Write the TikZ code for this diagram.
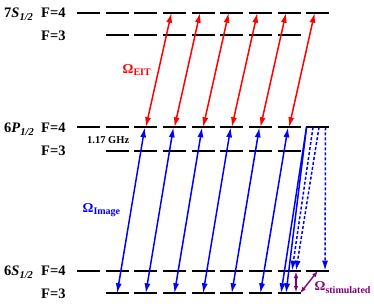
\documentclass[tikz,border=0pt]{standalone}
\usepackage{fontspec}
\setmainfont{Liberation Serif}
\usetikzlibrary{arrows.meta}
\definecolor{myred}{RGB}{255,0,0}
\definecolor{myblue}{RGB}{0,0,255}
\definecolor{mypurple}{RGB}{128,0,128}
\newcommand{\lsub}[1]{\raisebox{-0.45ex}{\fontsize{10}{11}\selectfont\bfseries #1}}
\newcommand{\ssub}[1]{\raisebox{-0.45ex}{\fontsize{10.5}{11}\selectfont\bfseries\itshape #1}}
\begin{document}
\begin{tikzpicture}[x=1pt,y=-1pt,
  level/.style={line width=1.9pt,black},
  lbl/.style={anchor=base west,inner sep=0pt,font=\fontsize{14.5}{16}\selectfont\bfseries},
  omg/.style={anchor=base west,inner sep=0pt,font=\fontsize{13.5}{15}\selectfont\bfseries},
  tipbig/.tip={Latex[length=10pt,width=6pt]},
  tipsmall/.tip={Latex[length=6.5pt,width=4.5pt]},
  redarrow/.style={myred,line width=1.5pt,tipbig-tipbig},
  bluearrow/.style={myblue,line width=1.5pt,tipbig-tipbig},
  bluehalf/.style={myblue,line width=1.5pt,-tipbig},
  bluedot/.style={myblue,line width=1.5pt,dash pattern=on 3pt off 2pt,-tipbig},
  purparrow/.style={mypurple,line width=1.4pt,tipsmall-tipsmall}
]
\useasboundingbox (0,0) rectangle (374,306);

% energy levels
\foreach \i in {1,...,9}{
  \pgfmathsetmacro\c{88.5+(\i-1)*28.65}
  \draw[level] (\c-11.5,12.7) -- (\c+11.5,12.7);
  \draw[level] (\c-11.5,127.3) -- (\c+11.5,127.3);
  \draw[level] (\c-11.5,270.7) -- (\c+11.5,270.7);
  \coordinate (A4-\i) at (\c,12.7);
  \coordinate (P4-\i) at (\c,127.3);
  \coordinate (S4-\i) at (\c,270.7);
}
\foreach \i in {2,...,8}{
  \pgfmathsetmacro\c{88.5+(\i-1)*28.65}
  \draw[level] (\c-11.5,35.3) -- (\c+11.5,35.3);
  \draw[level] (\c-11.5,150.7) -- (\c+11.5,150.7);
  \draw[level] (\c-11.5,293.3) -- (\c+11.5,293.3);
  \coordinate (A3-\i) at (\c,35.3);
  \coordinate (P3-\i) at (\c,150.7);
  \coordinate (S3-\i) at (\c,293.3);
}

% labels
\node[lbl] (l7s) at (4,17.6) {7\textit{S}\ssub{1/2}};
\node[lbl] (l7f4) at (41,17.6) {F=4};
\node[lbl] (l7f3) at (41,40.2) {F=3};
\node[lbl] (l6p) at (4,132.2) {6\textit{P}\ssub{1/2}};
\node[lbl] (l6pf4) at (41,132.2) {F=4};
\node[lbl] (l6pf3) at (41,155.6) {F=3};
\node[lbl] (l6s) at (4,275.6) {6\textit{S}\ssub{1/2}};
\node[lbl] (l6sf4) at (41,275.6) {F=4};
\node[lbl] (l6sf3) at (41,298.2) {F=3};
\node[anchor=base west,inner sep=0pt,font=\fontsize{10.5}{12}\selectfont\bfseries] (ghz) at (87,143.3) {1.17 GHz};

\node[omg,myred] (eit) at (122.5,73) {Ω\lsub{EIT}};
\node[omg,myblue] (img) at (82.5,212) {Ω\lsub{Image}};
\node[omg,mypurple] (stim) at (314.5,290.3) {Ω\lsub{stimulated}};

% red EIT arrows
\foreach \i [evaluate=\i as \j using int(\i+1)] in {3,...,8}
  \draw[redarrow] (P4-\i) -- ([xshift=-3pt]A4-\j);

% blue image arrows
\foreach \i [evaluate=\i as \j using int(\i+1)] in {2,...,7}
  \draw[bluearrow] (S3-\i) -- ([xshift=-1pt]P4-\j);

% extra solid blue
\coordinate (xt) at (306.5,127.3);
\coordinate (xb1) at (281,293.3);
\coordinate (xb2) at (286,293.3);
\draw[bluehalf] (xt) -- (xb1);
\draw[bluehalf] (xt) -- (xb2);

% dotted blue
\coordinate (d1t) at (313,127.3);
\coordinate (d2t) at (319,127.3);
\coordinate (d3t) at (325.5,127.3);
\coordinate (d1b) at (292,270.7);
\coordinate (d2b) at (296,270.7);
\coordinate (d3b) at (325,270.7);
\draw[bluedot] (d1t) -- (d1b);
\draw[bluedot] (d2t) -- (d2b);
\draw[bluedot] (d3t) -- (d3b);

% stimulated (purple)
\coordinate (pv1) at (296,271.5);
\coordinate (pv2) at (296,292.5);
\coordinate (pd1) at (300,293.3);
\coordinate (pd2) at (318,270.7);
\draw[purparrow] (pv1) -- (pv2);
\draw[purparrow] (pd1) -- (pd2);
\end{tikzpicture}
\end{document}
